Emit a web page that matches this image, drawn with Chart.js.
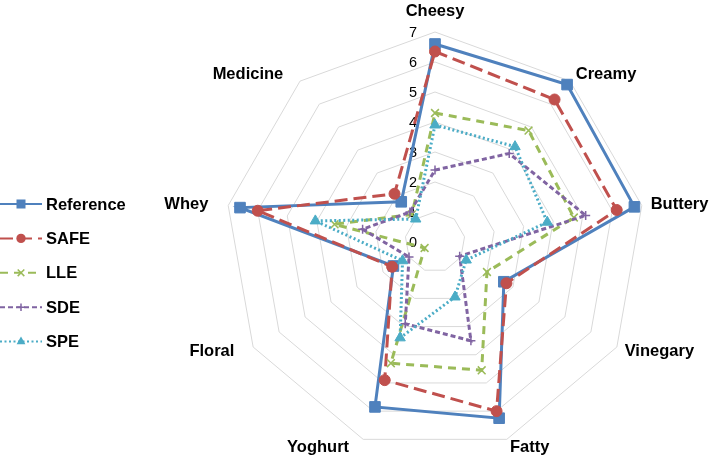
<!DOCTYPE html>
<html><head><meta charset="utf-8">
<script src="https://cdn.jsdelivr.net/npm/chart.js@4"></script>
<style>html,body{margin:0;padding:0;background:#fff;}canvas{display:block;}</style>
</head><body>
<canvas id="c" width="710" height="457"></canvas>
<script>
// ---- data ----
const categories = ['Cheesy','Creamy','Buttery','Vinegary','Fatty','Yoghurt','Floral','Whey','Medicine'];
const seriesNames = ['Reference','SAFE','LLE','SDE','SPE'];
const referenceValues = [6.6, 6.85, 6.75, 2.65, 6.25, 5.85, 1.6, 6.6, 1.75];
const safeValues      = [6.35, 6.2, 6.15, 2.75, 6.0, 4.9, 1.65, 6.0, 2.1];
const lleValues       = [4.3, 4.85, 4.7, 2.0, 4.55, 4.3, 0.4, 3.4, 1.2];
const sdeValues       = [2.4, 3.85, 5.1, 0.95, 3.5, 2.9, 1.0, 2.45, 1.3];
const speValues       = [3.9, 4.15, 3.8, 1.2, 1.95, 3.4, 1.25, 4.05, 1.0];
const tickValues = [0,1,2,3,4,5,6,7];

// ---- styles ----
const FONT = "'Liberation Sans', Arial, sans-serif";
const styles = [
  {color:'#4F81BD', dash:[],      point:'rect',     radius:7.5, bw:1},
  {color:'#C0504D', dash:[13,6],  point:'circle',   radius:5.5, bw:1},
  {color:'#9BBB59', dash:[8,6],   point:'crossRot', radius:5.5, bw:1.5},
  {color:'#8064A2', dash:[5,3],   point:'cross',    radius:4.5, bw:1.5},
  {color:'#4BACC6', dash:[2,2.5], point:'triangle', radius:6,   bw:1}
];
const seriesValues = [referenceValues, safeValues, lleValues, sdeValues, speValues];

const datasets = seriesNames.map((name, i) => ({
  label: name,
  data: seriesValues[i],
  borderColor: styles[i].color,
  backgroundColor: styles[i].color,
  pointBackgroundColor: styles[i].color,
  pointBorderColor: styles[i].color,
  pointBorderWidth: styles[i].bw,
  borderWidth: 3,
  borderDash: styles[i].dash,
  pointStyle: styles[i].point,
  pointRadius: styles[i].radius,
  pointHoverRadius: styles[i].radius,
  fill: false,
  tension: 0,
  order: seriesNames.length - i
}));

function drawMarker(ctx, style, x, y, r, color, bw) {
  ctx.save();
  ctx.fillStyle = color; ctx.strokeStyle = color; ctx.lineWidth = bw; ctx.setLineDash([]);
  ctx.beginPath();
  if (style === 'rect') {
    const h = Math.SQRT1_2 * r; ctx.rect(x - h, y - h, 2 * h, 2 * h); ctx.fill();
  } else if (style === 'circle') {
    ctx.arc(x, y, r, 0, Math.PI * 2); ctx.fill();
  } else if (style === 'triangle') {
    const s = r * 3 / Math.sqrt(3);
    const h = s * Math.sqrt(3) / 2;
    ctx.moveTo(x, y - 2 * h / 3); ctx.lineTo(x + s / 2, y + h / 3); ctx.lineTo(x - s / 2, y + h / 3);
    ctx.closePath(); ctx.fill();
  } else if (style === 'crossRot') {
    const o = Math.SQRT1_2 * r;
    ctx.moveTo(x - o, y - o); ctx.lineTo(x + o, y + o);
    ctx.moveTo(x - o, y + o); ctx.lineTo(x + o, y - o); ctx.stroke();
  } else if (style === 'cross') {
    ctx.moveTo(x - r, y); ctx.lineTo(x + r, y);
    ctx.moveTo(x, y - r); ctx.lineTo(x, y + r); ctx.stroke();
  }
  ctx.restore();
}

const overlay = {
  id: 'overlay',
  beforeDatasetsDraw(chart) {
    const s = chart.scales.r, ctx = chart.ctx;
    ctx.save();
    ctx.font = '14.5px ' + FONT; ctx.fillStyle = '#000';
    ctx.textAlign = 'right'; ctx.textBaseline = 'middle';
    tickValues.forEach(v => {
      const d = s.getDistanceFromCenterForValue(v);
      ctx.fillText(String(v), s.xCenter - 18, s.yCenter - d + 1);
    });
    ctx.restore();
  },
  afterDraw(chart) {
    const s = chart.scales.r, ctx = chart.ctx;
    ctx.save();
    ctx.font = 'bold 16.5px ' + FONT; ctx.fillStyle = '#000'; ctx.textBaseline = 'middle';
    const n = categories.length;
    categories.forEach((lab, i) => {
      const p = s.getPointPosition(i, s.drawingArea + 9);
      const deg = i * 360 / n;
      let x = p.x, y = p.y;
      if (deg === 0) { ctx.textAlign = 'center'; y -= 12; }
      else if (deg < 180) { ctx.textAlign = 'left'; }
      else { ctx.textAlign = 'right'; x -= 11; }
      ctx.fillText(lab, x, y);
    });
    // legend
    const lx0 = 0, lx1 = 42, mx = 21, tx = 46, y0 = 204, dy = 34.4;
    seriesNames.forEach((name, i) => {
      const y = y0 + i * dy, st = styles[i];
      ctx.save();
      ctx.strokeStyle = st.color; ctx.lineWidth = 2; ctx.setLineDash(st.dash);
      ctx.beginPath(); ctx.moveTo(lx0, y); ctx.lineTo(lx1, y); ctx.stroke();
      ctx.restore();
      drawMarker(ctx, st.point, mx, y, st.radius * 0.85, st.color, st.bw);
      ctx.textAlign = 'left'; ctx.fillStyle = '#000';
      ctx.fillText(name, tx, y + 1);
    });
    ctx.restore();
  }
};

new Chart(document.getElementById('c'), {
  type: 'radar',
  data: { labels: categories, datasets },
  options: {
    responsive: false,
    animation: false,
    layout: { padding: { left: 225, right: 65, top: 32, bottom: 5 } },
    plugins: { legend: { display: false }, tooltip: { enabled: false } },
    elements: { line: { borderJoinStyle: 'miter' } },
    scales: {
      r: {
        min: 0, max: 7,
        ticks: { display: false, stepSize: 1 },
        pointLabels: { display: false },
        angleLines: { display: false },
        grid: { color: '#d9d9d9', lineWidth: 1, circular: false }
      }
    }
  },
  plugins: [overlay]
});
</script>
</body></html>
